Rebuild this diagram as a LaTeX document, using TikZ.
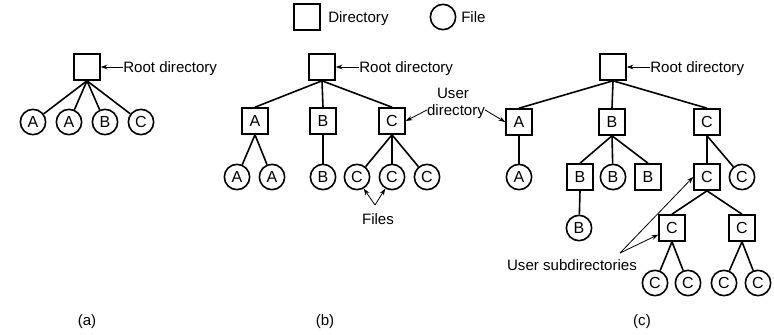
\documentclass[tikz,border=0pt]{standalone}
\usepackage{fontspec}
\setmainfont{Liberation Sans}
\usetikzlibrary{arrows.meta}
\begin{document}
\begin{tikzpicture}[x=0.75pt,y=-0.75pt,
  font=\fontsize{11.3}{13}\selectfont,
  dir/.style={draw, line width=1.2pt, minimum size=19.5pt, inner sep=0pt, text height=8.6pt, text depth=0pt, font=\fontsize{12}{13}\selectfont},
  fil/.style={draw, circle, line width=1.2pt, minimum size=19pt, inner sep=0pt, text height=8.6pt, text depth=0pt, font=\fontsize{12}{13}\selectfont},
  edge/.style={line width=1.2pt},
  ptr/.style={line width=0.6pt, -{Stealth[length=5pt,width=3.5pt]}},
  lbl/.style={inner sep=0pt, text height=8.1pt, text depth=0pt}]
\path[use as bounding box] (0,0) rectangle (774,335);

% legend
\node[dir] (legd) at (307,17) {};
\node[lbl, anchor=west] (legdt) at (328,17) {Directory};
\node[fil] (legf) at (443,17) {};
\node[lbl, anchor=west] (legft) at (461,17) {File};

% (a)
\node[dir] (ra) at (87,67) {};
\node[lbl, anchor=west] (rat) at (123,67) {Root directory};
\draw[ptr] (rat.west) -- (ra.east);
\node[fil] (a1) at (33,122) {A};
\node[fil] (a2) at (69,122) {A};
\node[fil] (a3) at (105,122) {B};
\node[fil] (a4) at (141,122) {C};
\foreach \n in {a1,a2,a3,a4} \draw[edge] (ra.south) -- (\n);
\node[lbl] (capa) at (87,320) {(a)};

% (b)
\node[dir] (rb) at (322,67) {};
\node[lbl, anchor=west] (rbt) at (359,67) {Root directory};
\draw[ptr] (rbt.west) -- (rb.east);
\node[dir] (bA) at (255,121) {A};
\node[dir] (bB) at (323,121) {B};
\node[dir] (bC) at (392,121) {C};
\foreach \n in {bA,bB,bC} \draw[edge] (rb.south) -- (\n.north);
\node[fil] (bA1) at (237,177) {A};
\node[fil] (bA2) at (272,177) {A};
\node[fil] (bB1) at (323,177) {B};
\node[fil] (bC1) at (357,177) {C};
\node[fil] (bC2) at (392,177) {C};
\node[fil] (bC3) at (427,177) {C};
\draw[edge] (bA.south) -- (bA1);
\draw[edge] (bA.south) -- (bA2);
\draw[edge] (bB.south) -- (bB1);
\foreach \n in {bC1,bC2,bC3} \draw[edge] (bC.south) -- (\n);
\node[lbl] (filest) at (378,219) {Files};
\coordinate (filesp) at (375,205);
\draw[ptr] (filesp) -- (bC1.-60);
\draw[ptr] (filesp) -- (bC2.-120);
\node[lbl] (usert) at (453,93) {User};
\node[lbl] (udirt) at (456,110) {directory};
\node[lbl] (capb) at (325,320) {(b)};

% (c)
\node[dir] (rc) at (613,67) {};
\node[lbl, anchor=west] (rct) at (650,67) {Root directory};
\draw[ptr] (rct.west) -- (rc.east);
\node[dir] (cA) at (519,122) {A};
\node[dir] (cB) at (612,122) {B};
\node[dir] (cC) at (707,122) {C};
\foreach \n in {cA,cB,cC} \draw[edge] (rc.south) -- (\n.north);
\node[fil] (cA1) at (519,177) {A};
\node[dir] (cB1) at (580,177) {B};
\node[fil] (cB2) at (613,177) {B};
\node[dir] (cB3) at (648,177) {B};
\node[dir] (cC1) at (707,177) {C};
\node[fil] (cC2) at (742,177) {C};
\draw[edge] (cA.south) -- (cA1);
\draw[edge] (cB.south) -- (cB1.north);
\draw[edge] (cB.south) -- (cB2);
\draw[edge] (cB.south) -- (cB3.north);
\draw[edge] (cC.south) -- (cC1.north);
\draw[edge] (cC.south) -- (cC2);
\node[fil] (cB11) at (579,228) {B};
\draw[edge] (cB1.south) -- (cB11);
\node[dir] (cC11) at (672,228) {C};
\node[dir] (cC12) at (742,228) {C};
\draw[edge] (cC1.south) -- (cC11.north);
\draw[edge] (cC1.south) -- (cC12.north);
\node[fil] (cC111) at (655,283) {C};
\node[fil] (cC112) at (688,283) {C};
\node[fil] (cC121) at (724,283) {C};
\node[fil] (cC122) at (758,283) {C};
\draw[edge] (cC11.south) -- (cC111);
\draw[edge] (cC11.south) -- (cC112);
\draw[edge] (cC12.south) -- (cC121);
\draw[edge] (cC12.south) -- (cC122);
\node[lbl] (usubt) at (572,265) {User subdirectories};
\coordinate (usubp) at (620,253);
\draw[ptr] (usubp) -- (cC1.west);
\draw[ptr] (usubp) -- ([yshift=-5pt]cC11.west);
\node[lbl] (capc) at (642,320) {(c)};

% user directory pointers
\draw[ptr] (udirt.west) -- (bC.east);
\draw[ptr] (udirt.east) -- (cA.west);
\end{tikzpicture}
\end{document}
